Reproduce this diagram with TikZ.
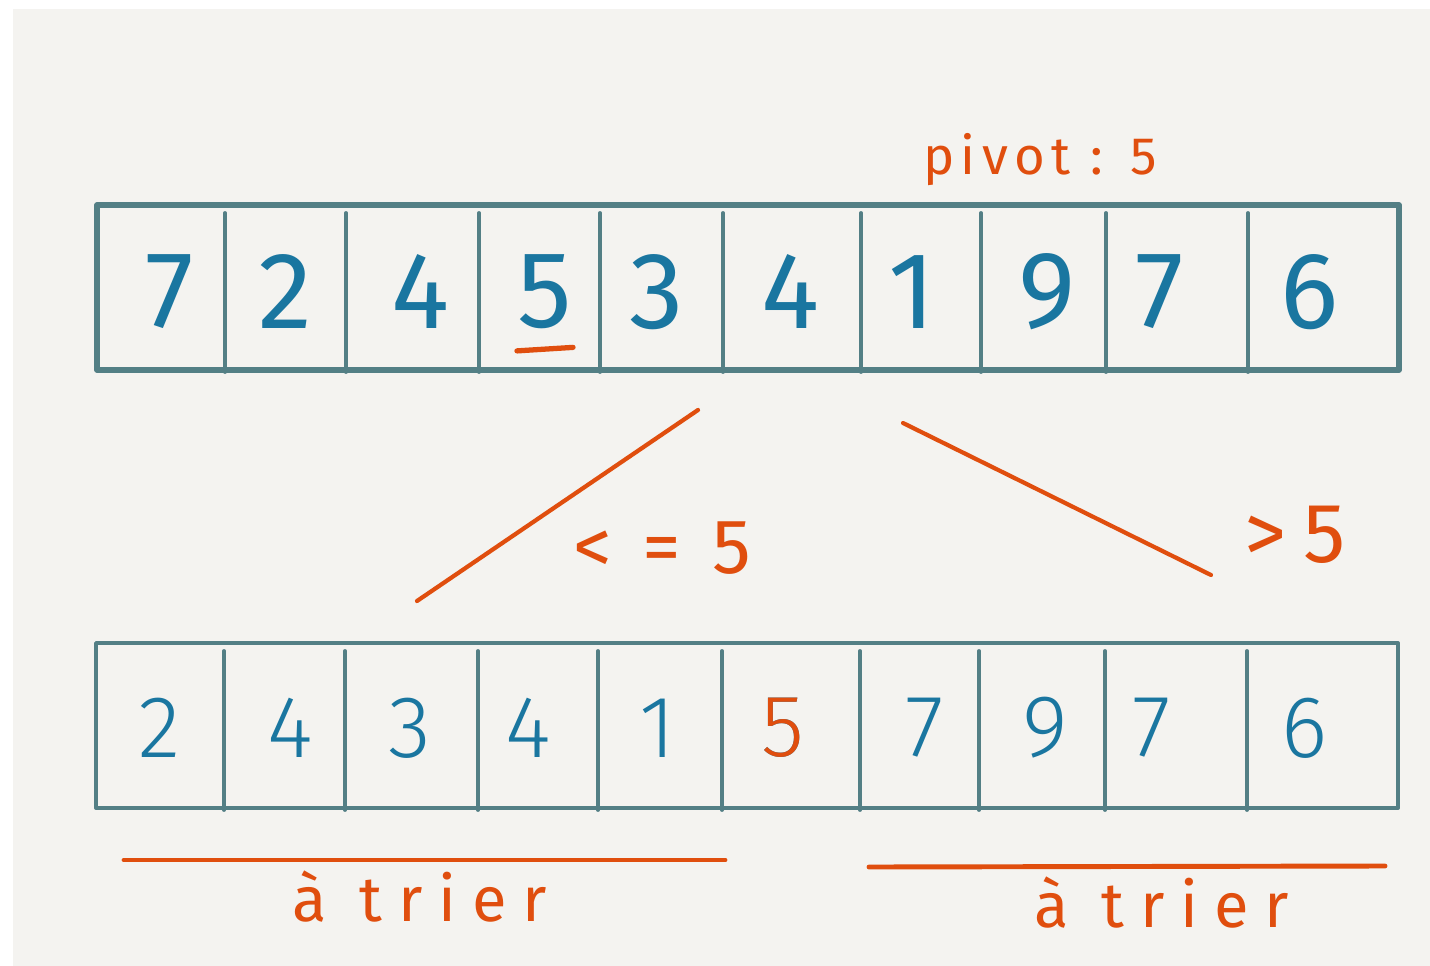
\documentclass[tikz,border=0pt]{standalone}
\usepackage{fontspec}
\setmainfont{Fira Sans}
\newfontfamily\lightfont{Fira Sans Light}
\usetikzlibrary{positioning}
\definecolor{Paper}{HTML}{F4F3F0}
\definecolor{Slate}{HTML}{537F85}
\definecolor{Ink}{HTML}{1A76A0}
\definecolor{Rust}{HTML}{E04E0E}
\tikzset{
 row/.style={draw=Slate,line width=1.6pt,line cap=round,line join=round},
 lowrow/.style={row,line width=1.1pt},
 sep/.style={draw=Slate,line width=1.1pt,line cap=round},
 digit/.style={text=Ink,inner sep=0pt,font=\fontsize{31}{31}\selectfont},
 lowdigit/.style={digit,font=\lightfont\fontsize{25}{25}\selectfont},
 note/.style={text=Rust,inner sep=0pt,font=\fontsize{18}{18}\selectfont\addfontfeature{LetterSpace=25}},
 split/.style={draw=Rust,line width=1.2pt,line cap=round}
}
\begin{document}
\begin{tikzpicture}[x=0.1mm,y=-0.1mm]
\useasboundingbox (0,0) rectangle (1430,966);
\fill[Paper] (13,9) rectangle (1430,966);
\draw[row] (97,205) rectangle (1399,370);
\foreach \x in {225,346,479,600,723,861,981,1106,1248} \draw[sep] (\x,213)--(\x,372);
\foreach \x/\d [count=\i] in {170/7,285/2,420/4,545/5,657/3,790/4,912/1,1047/9,1160/7,1310/6}
 \node[digit] (t\i) at (\x,292) {\d};
\draw[split,line width=1.5pt] ([yshift=-6pt]t4.south west)--([yshift=-5pt]t4.south east);
\node[note,font=\fontsize{15}{15}\selectfont\addfontfeature{LetterSpace=12}] (pivot) at (1040,160) {pivot : 5};
\draw[lowrow] (96,643) rectangle (1398,808);
\foreach \x in {224,345,478,598,722,860,979,1105,1247} \draw[sep] (\x,651)--(\x,810);
\foreach \x/\d [count=\i] in {160/2,290/4,410/3,528/4,658/1,783/5,925/7,1045/9,1152/7,1305/6}
 \node[lowdigit] (b\i) at (\x,728) {\d};
\node[lowdigit,text=Rust] at (b6) {5};
\coordinate (l1) at (698,410);
\coordinate (l2) at (417,601);
\coordinate (r1) at (903,423);
\coordinate (r2) at (1211,575);
\draw[split] (l1)--(l2);
\draw[split] (r1)--(r2);
\node[note,font=\fontsize{22}{22}\selectfont\addfontfeature{LetterSpace=40}] (le) at (662,548) {<=5};
\node[note,font=\fontsize{24}{24}\selectfont\addfontfeature{LetterSpace=20}] (gt) at (1295,535) {>5};
\draw[split,line width=1.4pt] (124,860)--(725,860);
\draw[split,line width=1.4pt] (869,867)--(1385,866);
\node[note] (left) at (420,897) {à trier};
\node[note] (right) at (1162,903) {à trier};
\end{tikzpicture}
\end{document}
